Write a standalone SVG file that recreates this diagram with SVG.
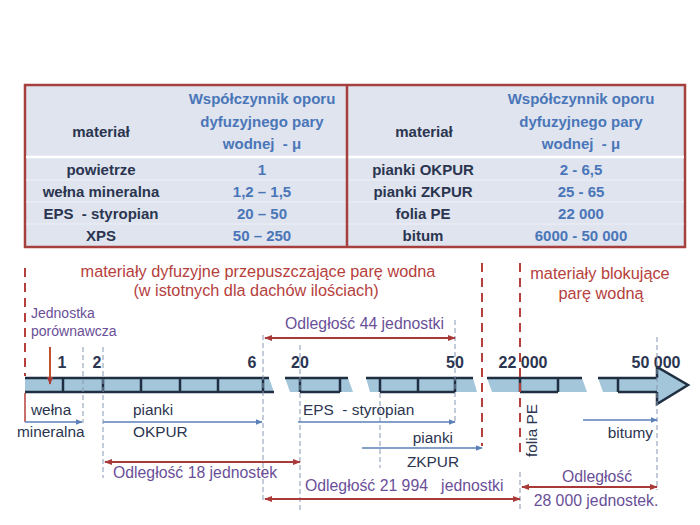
<svg xmlns="http://www.w3.org/2000/svg" width="700" height="525" viewBox="0 0 700 525">
<defs>
<style>
text{font-family:"Liberation Sans",Arial,sans-serif}
.tb{font-size:15px;font-weight:bold;text-anchor:middle}
.dk{fill:#2b3550}
.bl{fill:#4a76b8}
.red{fill:#b5403c;font-size:16.3px;text-anchor:middle}
.pur{fill:#6a4f98;font-size:15.8px}
.lab{fill:#2b3550;font-size:15.4px}
.num{fill:#2b3550;font-size:16px;font-weight:bold;text-anchor:middle}
.gd{stroke:#8797b3;stroke-width:1;stroke-dasharray:5,3;fill:none}
.rd{stroke:#b5403c;stroke-width:2;stroke-dasharray:9,6;fill:none}
.ba{stroke:#5b80b8;stroke-width:1.5;fill:none;marker-end:url(#ab)}
.ra{stroke:#a93a38;stroke-width:2;fill:none;marker-end:url(#ar);marker-start:url(#ar)}
.seg{fill:#a3c6da}
.edge{stroke:#1f2e40;stroke-width:2.5}
</style>
<marker id="ab" viewBox="0 0 10 10" refX="9" refY="5" markerWidth="7" markerHeight="7" markerUnits="userSpaceOnUse" orient="auto"><path d="M0,1 L10,5 L0,9 z" fill="#5b80b8"/></marker>
<marker id="ar" viewBox="0 0 10 10" refX="9" refY="5" markerWidth="8" markerHeight="8" markerUnits="userSpaceOnUse" orient="auto-start-reverse"><path d="M0,1 L10,5 L0,9 z" fill="#a93a38"/></marker>
</defs>
<rect width="700" height="525" fill="#ffffff"/>

<g id="table">
<rect x="25" y="85" width="660" height="162" fill="#dfe4ef" stroke="#a5403f" stroke-width="2.5"/>
<line x1="26" y1="157" x2="684" y2="157" stroke="#ffffff" stroke-width="2.5"/>
<line x1="26" y1="180" x2="684" y2="180" stroke="#eef1f7" stroke-width="1"/>
<line x1="26" y1="202" x2="684" y2="202" stroke="#eef1f7" stroke-width="1"/>
<line x1="26" y1="224" x2="684" y2="224" stroke="#eef1f7" stroke-width="1"/>
<line x1="347" y1="85" x2="347" y2="247" stroke="#a5403f" stroke-width="2.5"/>
<text class="tb dk" x="101" y="137">materiał</text>
<text class="tb bl" x="262" y="104">Współczynnik oporu</text>
<text class="tb bl" x="262" y="127">dyfuzyjnego pary</text>
<text class="tb bl" x="262" y="149" xml:space="preserve">wodnej  - μ</text>
<text class="tb dk" x="424" y="137">materiał</text>
<text class="tb bl" x="581" y="104">Współczynnik oporu</text>
<text class="tb bl" x="581" y="127">dyfuzyjnego pary</text>
<text class="tb bl" x="581" y="149" xml:space="preserve">wodnej  - μ</text>
<text class="tb dk" x="101" y="175">powietrze</text>
<text class="tb dk" x="101" y="197">wełna mineralna</text>
<text class="tb dk" x="101" y="219" xml:space="preserve">EPS  - styropian</text>
<text class="tb dk" x="101" y="241">XPS</text>
<text class="tb bl" x="262" y="175">1</text>
<text class="tb bl" x="262" y="197">1,2 – 1,5</text>
<text class="tb bl" x="262" y="219">20 – 50</text>
<text class="tb bl" x="262" y="241">50 – 250</text>
<text class="tb dk" x="423" y="175">pianki OKPUR</text>
<text class="tb dk" x="423" y="197">pianki ZKPUR</text>
<text class="tb dk" x="423" y="219">folia PE</text>
<text class="tb dk" x="423" y="241">bitum</text>
<text class="tb bl" x="581" y="175">2 - 6,5</text>
<text class="tb bl" x="581" y="197">25 - 65</text>
<text class="tb bl" x="581" y="219">22 000</text>
<text class="tb bl" x="581" y="241">6000 - 50 000</text>
</g>

<g id="headings">
<text class="red" x="258" y="277">materiały dyfuzyjne przepuszczające parę wodna</text>
<text class="red" x="256" y="296">(w istotnych dla dachów ilościach)</text>
<text class="red" x="600" y="279">materiały blokujące</text>
<text class="red" x="601" y="299">parę wodną</text>
</g>

<g id="scale-bar">
<polygon class="seg" points="25,378 269,378 274,392 25,392"/>
<polygon class="seg" points="285,378 348,378 353,392 290,392"/>
<polygon class="seg" points="366,378 473,378 477,392 370,392"/>
<polygon class="seg" points="487,378 582,378 587,392 492,392"/>
<polygon class="seg" points="598,378 657,378 657,367 688,385 657,404 657,392 603,392"/>
<g class="edge">
<line x1="25" y1="378" x2="269" y2="378"/><line x1="25" y1="392" x2="274" y2="392"/>
<line x1="285" y1="378" x2="348" y2="378"/><line x1="300" y1="392" x2="340" y2="392"/>
<line x1="366" y1="378" x2="473" y2="378"/><line x1="380" y1="392" x2="455" y2="392"/>
<line x1="487" y1="378" x2="582" y2="378"/><line x1="520" y1="392" x2="558" y2="392"/>
<line x1="598" y1="378" x2="657" y2="378"/><line x1="618" y1="392" x2="657" y2="392"/>
<line x1="63" y1="378" x2="63" y2="392"/><line x1="103" y1="378" x2="103" y2="392"/>
<line x1="141" y1="378" x2="141" y2="392"/><line x1="180" y1="378" x2="180" y2="392"/>
<line x1="218" y1="378" x2="218" y2="392"/><line x1="263" y1="378" x2="263" y2="392"/>
<line x1="300" y1="378" x2="300" y2="392"/><line x1="340" y1="378" x2="340" y2="392"/>
<line x1="380" y1="378" x2="380" y2="392"/><line x1="418" y1="378" x2="418" y2="392"/>
<line x1="455" y1="378" x2="455" y2="392"/><line x1="520" y1="378" x2="520" y2="392"/>
<line x1="558" y1="378" x2="558" y2="392"/><line x1="618" y1="378" x2="618" y2="392"/>
</g>
<polyline points="657,378 657,367 688,385 657,404 657,392" fill="none" stroke="#1f2e40" stroke-width="2.5" stroke-linejoin="miter"/>
<text class="num" x="62" y="368">1</text>
<text class="num" x="97" y="368">2</text>
<text class="num" x="252" y="368">6</text>
<text class="num" x="300" y="368">20</text>
<text class="num" x="455" y="368">50</text>
<text class="num" x="523" y="368">22 000</text>
<text class="num" x="656" y="368">50 000</text>
</g>

<g id="guides">
<line class="rd" x1="25" y1="268" x2="25" y2="376"/>
<line x1="25" y1="393" x2="25" y2="422" stroke="#b5403c" stroke-width="1.5"/>
<line class="rd" x1="482" y1="263" x2="482" y2="446"/>
<line class="rd" x1="520" y1="263" x2="520" y2="456"/>
<line class="gd" x1="83" y1="347" x2="83" y2="423"/>
<line class="gd" x1="103" y1="347" x2="103" y2="478"/>
<line class="gd" x1="263" y1="335" x2="263" y2="502"/>
<line class="gd" x1="300" y1="345" x2="300" y2="512"/>
<line class="gd" x1="380" y1="393" x2="380" y2="468"/>
<line class="gd" x1="455" y1="320" x2="455" y2="422"/>
<line class="gd" x1="520" y1="472" x2="520" y2="510"/>
<line class="gd" x1="657" y1="337" x2="657" y2="490"/>
</g>

<g id="unit-label">
<text class="pur" x="31" y="318" style="font-size:14px">Jednostka</text>
<text class="pur" x="31" y="336" style="font-size:14px">porównawcza</text>
<line x1="50" y1="347" x2="50" y2="384" stroke="#c0502f" stroke-width="2" style="marker-end:url(#ar)"/>
</g>

<g id="material-labels">
<text class="lab" x="31" y="415">wełna</text>
<text class="lab" x="17" y="437">mineralna</text>
<text class="lab" x="133" y="415">pianki</text>
<text class="lab" x="133" y="437">OKPUR</text>
<text class="lab" x="303" y="415" xml:space="preserve">EPS  - styropian</text>
<text class="lab" x="453" y="443" text-anchor="end">pianki</text>
<text class="lab" x="433" y="467" text-anchor="middle">ZKPUR</text>
<text class="lab" x="537" y="457" transform="rotate(-90 537 457)">folia PE</text>
<text class="lab" x="653" y="438" text-anchor="end">bitumy</text>
</g>

<g id="connectors">
<line class="ba" x1="25" y1="422" x2="82" y2="422"/>
<line class="ba" x1="103" y1="422" x2="262" y2="422"/>
<line class="ba" x1="298" y1="422" x2="455" y2="422"/>
<line class="ba" x1="362" y1="448" x2="482" y2="448"/>
<line class="ba" x1="583" y1="420" x2="657" y2="420"/>
<line class="ra" x1="265" y1="338" x2="455" y2="338"/>
<line class="ra" x1="105" y1="462" x2="300" y2="462"/>
<line class="ra" x1="265" y1="499" x2="520" y2="499"/>
<line class="ra" x1="522" y1="487" x2="657" y2="487"/>
</g>

<g id="distance-labels">
<text class="pur" x="285" y="329">Odległość 44 jednostki</text>
<text class="pur" x="113" y="478">Odległość 18 jednostek</text>
<text class="pur" x="305" y="491" xml:space="preserve">Odległość 21 994   jednostki</text>
<text class="pur" x="597" y="482" text-anchor="middle">Odległość</text>
<text class="pur" x="596" y="506" text-anchor="middle">28 000 jednostek.</text>
</g>
</svg>
